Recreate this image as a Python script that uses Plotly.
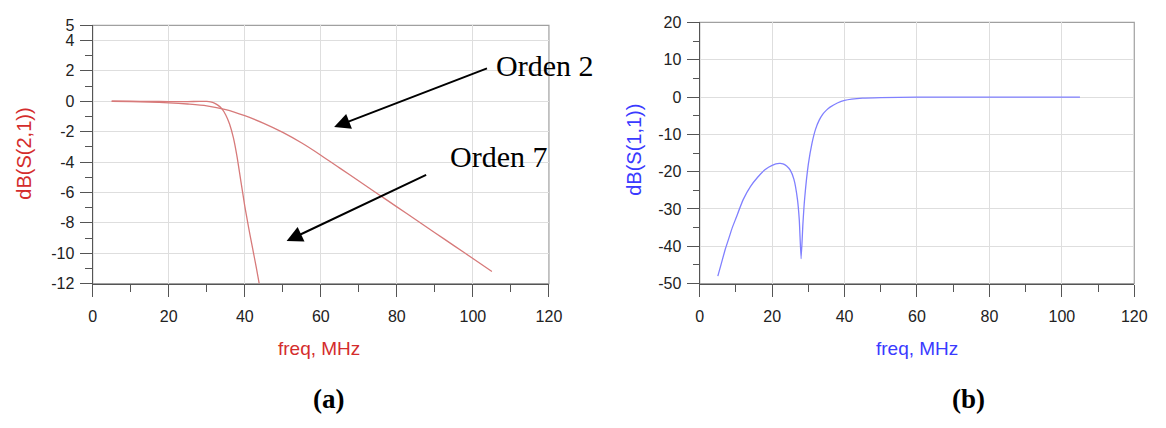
import plotly.graph_objects as go

# ---- S21 transmission, low-pass filters of order 2 and order 7 ----
freq_orden2 = [5, 10, 15, 20, 25, 30, 35, 40, 45, 50, 55, 60, 65, 70, 75, 80, 85, 90, 95, 100, 105]
s21_orden2 = [0, -0.02, -0.05, -0.1, -0.18, -0.3, -0.55, -0.95, -1.45, -2.05, -2.75, -3.55,
              -4.4, -5.25, -6.1, -6.95, -7.8, -8.65, -9.5, -10.35, -11.2]

freq_orden7 = [5, 10, 15, 20, 25, 28, 30, 31, 32, 33, 34, 35, 36, 37, 38, 39, 40, 41, 42, 43, 43.8]
s21_orden7 = [0, 0, -0.01, -0.02, -0.02, -0.01, -0.01, -0.04, -0.12, -0.27, -0.5, -0.9, -1.5,
              -2.4, -3.7, -5.3, -6.9, -8.3, -9.6, -10.9, -12.0]

# ---- S11 reflection ----
freq_s11 = [5, 6, 7, 8, 9, 10, 12, 14, 16, 18, 20, 22, 23, 24, 25, 26, 27, 27.5, 28, 28.5,
            29, 30, 31, 32, 33, 34, 35, 36, 38, 40, 45, 50, 60, 70, 80, 90, 100, 105]
s11 = [-48, -44.5, -41, -38, -35, -32.5, -27.5, -24, -21.5, -19.5, -18.3, -17.8, -17.9, -18.5,
       -19.6, -22, -27.5, -33, -43.3, -34, -27, -18, -12.4, -8.6, -6.2, -4.6, -3.5, -2.7,
       -1.6, -0.9, -0.3, -0.15, -0.05, -0.02, 0, 0, 0, 0]

# ---- tick labels ----
x_ticks = [0, 20, 40, 60, 80, 100, 120]
y_ticks_a = [5, 4, 2, 0, -2, -4, -6, -8, -10, -12]
y_ticks_b = [20, 10, 0, -10, -20, -30, -40, -50]

W, H = 1166, 428
RED = "#d42c2c"
BLUE = "#3a3aff"
CURVE_RED = "#d77a7a"
CURVE_BLUE = "#8080ff"
GRID = "#dedede"
AXIS = "#555555"
TICKFONT = dict(family="Arial", size=16, color="#222222")


def px_x(p):
    return p / W


def px_y(p):
    return 1 - p / H


fig = go.Figure()

fig.add_trace(go.Scatter(x=freq_orden2, y=s21_orden2, mode="lines",
                         line=dict(color=CURVE_RED, width=1.3, shape="spline", smoothing=0.8),
                         xaxis="x", yaxis="y", showlegend=False))
fig.add_trace(go.Scatter(x=freq_orden7, y=s21_orden7, mode="lines",
                         line=dict(color=CURVE_RED, width=1.3, shape="spline", smoothing=0.3),
                         xaxis="x", yaxis="y", showlegend=False))
fig.add_trace(go.Scatter(x=freq_s11, y=s11, mode="lines",
                         line=dict(color=CURVE_BLUE, width=1.3, shape="spline", smoothing=0.5),
                         xaxis="x2", yaxis="y2", showlegend=False))

common_x = dict(range=[0, 120], tickvals=x_ticks, ticktext=[str(v) for v in x_ticks],
                showgrid=True, gridcolor=GRID, gridwidth=1,
                showline=True, linecolor=AXIS, linewidth=1.2, ticks="outside", ticklen=12,
                tickcolor=AXIS, tickfont=TICKFONT, ticklabelstandoff=6, zeroline=False,
                minor=dict(dtick=10, tick0=0, ticks="outside", ticklen=7, tickcolor=AXIS, showgrid=False))
common_y = dict(showgrid=True, gridcolor=GRID, gridwidth=1, showline=True, linecolor=AXIS,
                linewidth=1.2, ticks="outside", ticklen=12, tickcolor=AXIS, tickfont=TICKFONT,
                ticklabelstandoff=2, zeroline=False)

dom_ax = [px_x(90), px_x(553)]
dom_bx = [px_x(706), px_x(1147)]
dom_ay = [px_y(287), px_y(18)]
dom_by = [px_y(287), px_y(15)]

fig.update_layout(
    width=W, height=H,
    margin=dict(l=0, r=0, t=0, b=0),
    paper_bgcolor="white", plot_bgcolor="white",
    xaxis=dict(domain=dom_ax, anchor="y", **common_x),
    yaxis=dict(domain=dom_ay, anchor="x", range=[-12, 5], tickvals=y_ticks_a,
               ticktext=[str(v) for v in y_ticks_a],
               minor=dict(dtick=1, tick0=0, ticks="outside", ticklen=7, tickcolor=AXIS, showgrid=False),
               **common_y),
    xaxis2=dict(domain=dom_bx, anchor="y2", **common_x),
    yaxis2=dict(domain=dom_by, anchor="x2", range=[-50, 20], tickvals=y_ticks_b,
                ticktext=[str(v) for v in y_ticks_b],
                minor=dict(dtick=5, tick0=0, ticks="outside", ticklen=6, tickcolor=AXIS, showgrid=False),
                **common_y),
)

# light frame on the top and right of each plot
for xr, yr in (("x", "y"), ("x2", "y2")):
    fig.add_shape(type="rect", xref=f"{xr} domain", yref=f"{yr} domain", x0=0, x1=1, y0=0, y1=1,
                  line=dict(color="#a0a0a0", width=1.2), layer="below")


def label(text, cx, cy, font, angle=0):
    return dict(text=text, x=px_x(cx), y=px_y(cy), xref="paper", yref="paper",
                xanchor="center", yanchor="middle", textangle=angle, showarrow=False, font=font)


ann = [
    # axis titles
    label("dB(S(2,1))", 20, 152, dict(family="Arial", size=20, color=RED), -90),
    label("freq, MHz", 320, 355, dict(family="Arial", size=19, color=RED)),
    label("dB(S(1,1))", 639, 148, dict(family="Arial", size=20, color=BLUE), -90),
    label("freq, MHz", 927, 355, dict(family="Arial", size=19, color=BLUE)),
    # panel labels
    label("<b>(a)</b>", 329, 407, dict(family="Times New Roman", size=27, color="black")),
    label("<b>(b)</b>", 979, 407, dict(family="Times New Roman", size=27, color="black")),
    # curve callouts
    label("Orden 2", 549, 60, dict(family="Times New Roman", size=30, color="black")),
    label("Orden 7", 502, 155, dict(family="Times New Roman", size=30, color="black")),
    dict(text="", x=63.5, y=-1.7, xref="x", yref="y", ax=104.1, ay=2.2, axref="x", ayref="y",
         showarrow=True, arrowhead=2, arrowsize=1.6, arrowwidth=2, arrowcolor="black"),
    dict(text="", x=51.0, y=-9.2, xref="x", yref="y", ax=88.1, ay=-4.8, axref="x", ayref="y",
         showarrow=True, arrowhead=2, arrowsize=1.6, arrowwidth=2, arrowcolor="black"),
]

fig.update_layout(annotations=ann)

fig.write_html("out.html")
